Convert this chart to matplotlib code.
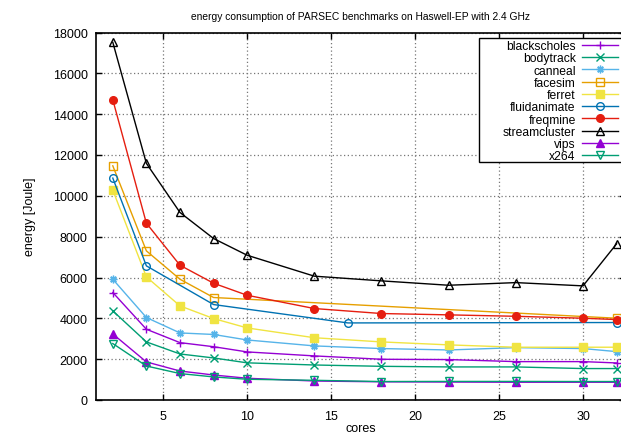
import matplotlib
matplotlib.use("Agg")
import matplotlib.pyplot as plt
from matplotlib.patches import Rectangle

# dados (energia em Joule por numero de cores)
cores = [2, 4, 6, 8, 10, 14, 18, 22, 26, 30, 32]
cores_facesim = [2, 4, 6, 8, 32]
cores_fluid = [2, 4, 8, 16, 32]

blackscholes = [5265, 3465, 2810, 2610, 2355, 2160, 1995, 1980, 1880, 1880, 1815]
bodytrack = [4365, 2845, 2255, 2060, 1820, 1715, 1650, 1620, 1620, 1540, 1540]
canneal = [5915, 4040, 3285, 3210, 2940, 2650, 2520, 2450, 2565, 2520, 2370]
facesim = [11470, 7305, 5915, 5020, 4005]
ferret = [10280, 6030, 4610, 3990, 3530, 3050, 2845, 2700, 2585, 2585, 2585]
fluidanimate = [10870, 6570, 4675, 3775, 3795]
freqmine = [14705, 8660, 6600, 5720, 5130, 4480, 4235, 4170, 4100, 4005, 3940]
streamcluster = [17520, 11590, 9185, 7910, 7090, 6065, 5835, 5620, 5750, 5590, 7650]
vips = [3235, 1865, 1420, 1225, 1065, 930, 890, 880, 870, 870, 870]
x264 = [2765, 1665, 1295, 1130, 1015, 965, 905, 910, 910, 905, 905]

plt.rcParams['font.family'] = ['Liberation Sans', 'DejaVu Sans']
plt.rcParams['font.size'] = 9

fig = plt.figure(figsize=(6.21, 4.35), dpi=100)
ax = fig.add_axes([96 / 621, 34 / 435, 529 / 621, 367.5 / 435])

# (nome, x, y, cor, marcador, preenchido)
series = [
    ('blackscholes', cores, blackscholes, '#9400D3', '+', True),
    ('bodytrack', cores, bodytrack, '#009E73', 'x', True),
    ('canneal', cores, canneal, '#56B4E9', (8, 2, 0), True),
    ('facesim', cores_facesim, facesim, '#E69F00', 's', False),
    ('ferret', cores, ferret, '#F0E442', 's', True),
    ('fluidanimate', cores_fluid, fluidanimate, '#0072B2', 'o', False),
    ('freqmine', cores, freqmine, '#E51E10', 'o', True),
    ('streamcluster', cores, streamcluster, 'black', '^', False),
    ('vips', cores, vips, '#9400D3', '^', True),
    ('x264', cores, x264, '#009E73', 'v', False),
]

for nome, xs, ys, cor, marc, cheio in series:
    ax.plot(xs, ys, color=cor, lw=1.0, marker=marc, ms=5.5, mew=1.0,
            mfc=cor if cheio else 'none', mec=cor, label=nome, zorder=3)

ax.set_xlim(1.0, 32.5)
ax.set_ylim(0, 18000)
ax.set_xticks([5, 10, 15, 20, 25, 30])
ax.set_yticks(range(0, 18001, 2000))
ax.tick_params(direction='in', length=4.5, width=1.0, top=True, right=True)
ax.tick_params(axis='x', pad=7)
ax.tick_params(axis='y', pad=6)
ax.grid(True, color='#777777', linestyle=(0, (1, 2)), lw=0.9)
for s in ax.spines.values():
    s.set_linewidth(1.2)

ax.set_title('energy consumption of PARSEC benchmarks on Haswell-EP with 2.4 GHz',
             fontsize=7.4, pad=10)
ax.set_xlabel('cores', labelpad=0)
ax.set_ylabel('energy [Joule]', labelpad=12)

# caixa da legenda no estilo gnuplot (mais larga que o texto)
caixa = Rectangle((0.724, 0.6476), 0.4, 0.3374, transform=ax.transAxes,
                  facecolor='white', edgecolor='black', lw=1.0, zorder=4)
ax.add_patch(caixa)

leg = ax.legend(loc='upper right', bbox_to_anchor=(0.9868, 0.979), borderaxespad=0,
                markerfirst=False, frameon=False, handlelength=3.0,
                handletextpad=0.5, labelspacing=0.02, borderpad=0, fontsize=8.7)
leg.set_zorder(5)

plt.savefig('out.png', dpi=100)
